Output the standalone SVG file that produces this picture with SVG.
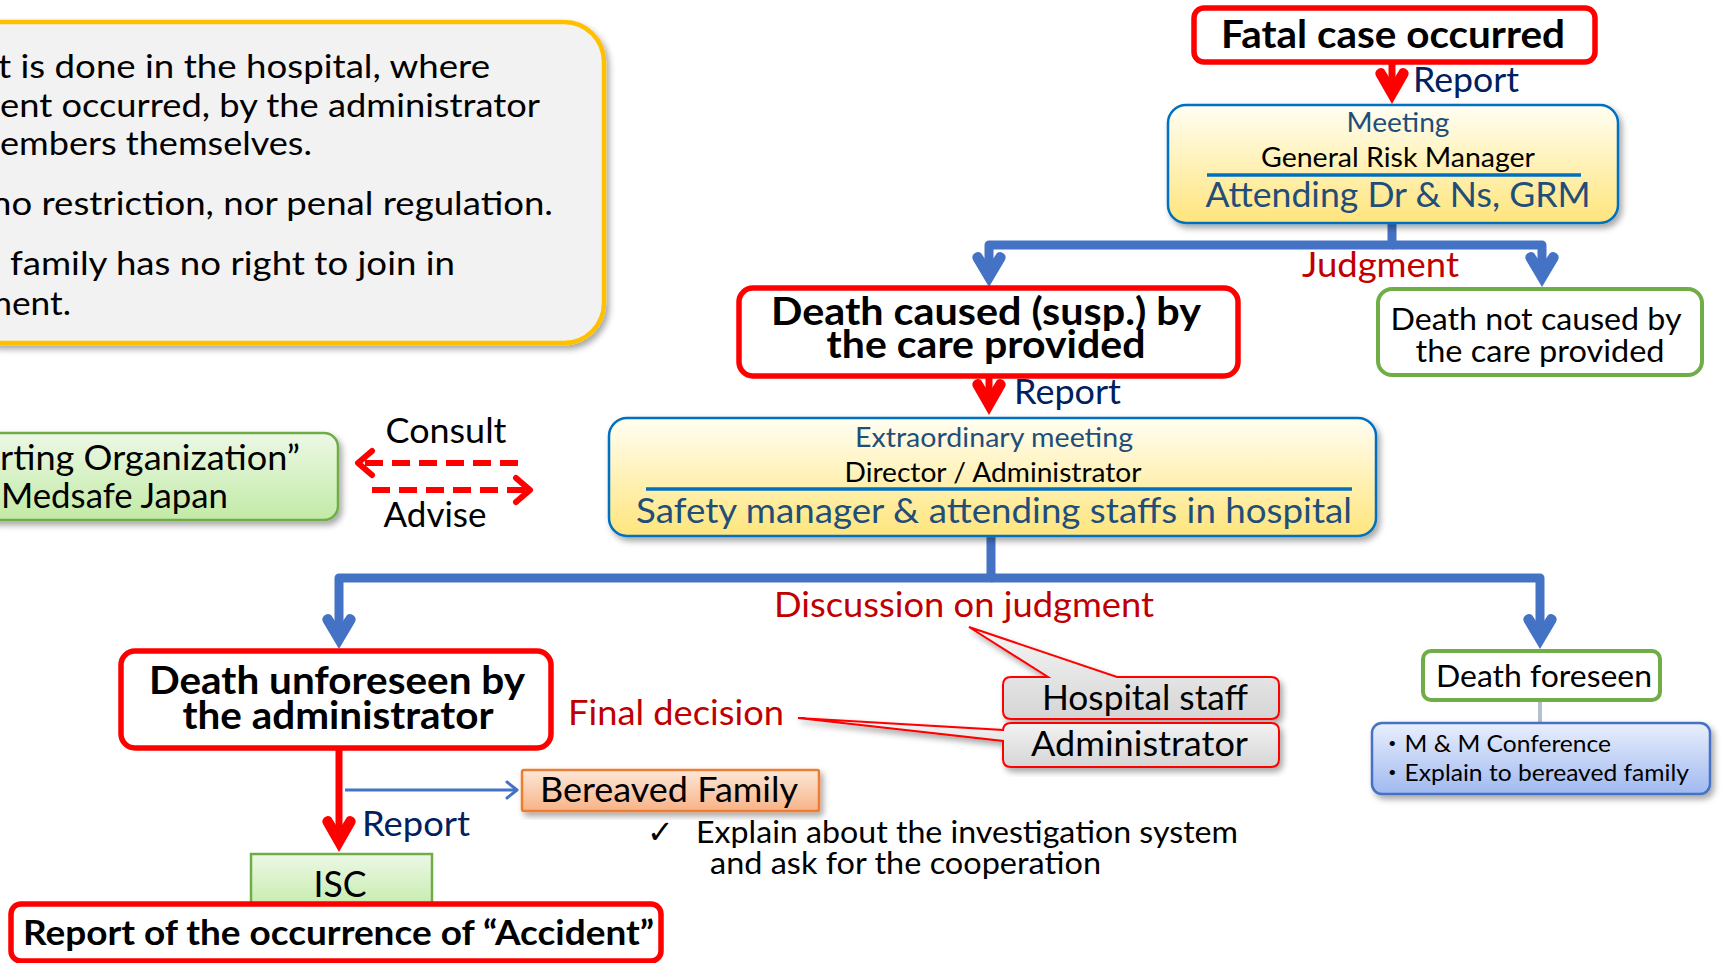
<svg xmlns="http://www.w3.org/2000/svg" width="1723" height="963" viewBox="0 0 1723 963">
<defs>
<style>
text{font-family:Lato,"Noto Sans CJK JP",sans-serif;}
.b{font-weight:bold;fill:#000;}
.k{fill:#000;}
.navy{fill:#002060;}
.slate{fill:#1f4e79;}
.dred{fill:#c00000;}
.redbox{fill:#fff;stroke:#ff0000;stroke-width:5.5;}
.greenbox{fill:#fff;stroke:#70ad47;stroke-width:4;}
.meet{fill:url(#gYellow);stroke:#0070c0;stroke-width:2.5;}
.blueconn{fill:none;stroke:#4472c4;stroke-width:9;stroke-linejoin:round;}
.redconn{fill:none;stroke:#ff0000;stroke-width:7;}
.dash{fill:none;stroke:#ff0000;stroke-width:6;stroke-dasharray:18 9;}
.mid{text-anchor:middle;}
</style>
<linearGradient id="gYellow" x1="0" y1="0" x2="0" y2="1"><stop offset="0" stop-color="#fffef3"/><stop offset="1" stop-color="#ffe57c"/></linearGradient>
<linearGradient id="gGreen" x1="0" y1="0" x2="0" y2="1"><stop offset="0" stop-color="#ecf8e5"/><stop offset="1" stop-color="#c2eaa6"/></linearGradient>
<linearGradient id="gOrange" x1="0" y1="0" x2="0" y2="1"><stop offset="0" stop-color="#fde8d8"/><stop offset="1" stop-color="#f7b387"/></linearGradient>
<linearGradient id="gBlue" x1="0" y1="0" x2="0" y2="1"><stop offset="0" stop-color="#e9effc"/><stop offset="1" stop-color="#a0b9f0"/></linearGradient>
<linearGradient id="gGray" x1="0" y1="0" x2="0" y2="1"><stop offset="0" stop-color="#f6f6f6"/><stop offset="1" stop-color="#d5d5d5"/></linearGradient>
<filter id="sh" x="-10%" y="-10%" width="120%" height="130%"><feDropShadow dx="3" dy="4" stdDeviation="3" flood-color="#000" flood-opacity="0.35"/></filter>
<marker id="ahRed" markerUnits="userSpaceOnUse" viewBox="-42 -24 44 48" markerWidth="44" markerHeight="48" refX="-20" refY="0" orient="auto">
<path d="M0,0 L-28,-16 A5.5,5.5 0 0 0 -35,-8 L-22,0 L-35,8 A5.5,5.5 0 0 0 -28,16 Z" fill="#ff0000"/>
</marker>
<marker id="ahBlue" markerUnits="userSpaceOnUse" viewBox="-42 -24 44 48" markerWidth="44" markerHeight="48" refX="-20" refY="0" orient="auto">
<path d="M0,0 L-27,-16 A5.5,5.5 0 0 0 -34,-8 L-22,0 L-34,8 A5.5,5.5 0 0 0 -27,16 Z" fill="#4472c4"/>
</marker>
<marker id="chevRed" markerUnits="userSpaceOnUse" viewBox="-20 -16 24 32" markerWidth="24" markerHeight="32" refX="-2" refY="0" orient="auto">
<polyline points="-14,-12 0,0 -14,12" fill="none" stroke="#ff0000" stroke-width="6" stroke-linecap="round" stroke-linejoin="round"/>
</marker>
<marker id="chevBlue" markerUnits="userSpaceOnUse" viewBox="-14 -10 16 20" markerWidth="16" markerHeight="20" refX="-1" refY="0" orient="auto">
<polyline points="-10,-8 0,0 -10,8" fill="none" stroke="#4472c4" stroke-width="3" stroke-linecap="round" stroke-linejoin="round"/>
</marker>
</defs>

<g id="note">
<rect x="-40" y="22" width="644" height="321" rx="40" fill="#f2f2f2" stroke="#ffc000" stroke-width="4.5" filter="url(#sh)"/>
<text class="k" x="-2" y="78" font-size="33" textLength="492" lengthAdjust="spacingAndGlyphs">t is done in the hospital, where</text>
<text class="k" x="0" y="117" font-size="33" textLength="540" lengthAdjust="spacingAndGlyphs">ent occurred, by the administrator</text>
<text class="k" x="0" y="155" font-size="33" textLength="312" lengthAdjust="spacingAndGlyphs">embers themselves.</text>
<text class="k" x="-9" y="215" font-size="33" textLength="562" lengthAdjust="spacingAndGlyphs">no restriction, nor penal regulation.</text>
<text class="k" x="10" y="275" font-size="33" textLength="445" lengthAdjust="spacingAndGlyphs">family has no right to join in</text>
<text class="k" x="-17" y="315" font-size="33" textLength="88" lengthAdjust="spacingAndGlyphs">ment.</text>
</g>

<g id="connectors">
<path class="redconn" d="M1392,63 V84" marker-end="url(#ahRed)"/>
<path class="blueconn" d="M1392,223 V245 H989 V267" marker-end="url(#ahBlue)"/>
<path class="blueconn" d="M1392,245 H1542 V267" marker-end="url(#ahBlue)"/>
<path class="redconn" d="M989,377 V395" marker-end="url(#ahRed)"/>
<path class="blueconn" d="M991,537 V578 H339 V629" marker-end="url(#ahBlue)"/>
<path class="blueconn" d="M991,578 H1540 V629" marker-end="url(#ahBlue)"/>
<path class="redconn" d="M339,749 V832" marker-end="url(#ahRed)"/>
<path d="M345,790 H516" fill="none" stroke="#4472c4" stroke-width="3" marker-end="url(#chevBlue)"/>
<path d="M1540,700 V723" fill="none" stroke="#b4bfd0" stroke-width="4"/>
<path class="dash" d="M518,463 H360" marker-end="url(#chevRed)"/>
<path class="dash" d="M372,490 H528" marker-end="url(#chevRed)"/>
<text class="navy" x="1413" y="92" font-size="35" textLength="106" lengthAdjust="spacingAndGlyphs">Report</text>
<text class="navy" x="1014" y="404" font-size="35" textLength="107" lengthAdjust="spacingAndGlyphs">Report</text>
<text class="navy" x="362" y="836" font-size="35" textLength="108" lengthAdjust="spacingAndGlyphs">Report</text>
<text class="dred" x="1302" y="277" font-size="35" textLength="157" lengthAdjust="spacingAndGlyphs">Judgment</text>
<text class="dred" x="774" y="617" font-size="35" textLength="380" lengthAdjust="spacingAndGlyphs">Discussion on judgment</text>
<text class="dred" x="568" y="725" font-size="35" textLength="216" lengthAdjust="spacingAndGlyphs">Final decision</text>
<text class="k mid" x="446" y="443" font-size="35" textLength="121" lengthAdjust="spacingAndGlyphs">Consult</text>
<text class="k mid" x="435" y="527" font-size="35" textLength="103" lengthAdjust="spacingAndGlyphs">Advise</text>
</g>

<g id="fatal">
<rect class="redbox" x="1194" y="8" width="401" height="54" rx="10"/>
<text class="b mid" x="1393" y="48" font-size="39" textLength="344" lengthAdjust="spacingAndGlyphs">Fatal case occurred</text>
</g>

<g id="meeting">
<rect class="meet" x="1168" y="105" width="450" height="118" rx="18" filter="url(#sh)"/>
<text class="slate mid" x="1398" y="132" font-size="27" textLength="103" lengthAdjust="spacingAndGlyphs">Meeting</text>
<text class="k mid" x="1398" y="167" font-size="27" textLength="274" lengthAdjust="spacingAndGlyphs">General Risk Manager</text>
<line x1="1207" y1="175" x2="1581" y2="175" stroke="#0070c0" stroke-width="3.5"/>
<text class="slate mid" x="1398" y="207" font-size="35" textLength="385" lengthAdjust="spacingAndGlyphs">Attending Dr &amp; Ns, GRM</text>
</g>

<g id="death-caused">
<rect class="redbox" x="739" y="288" width="499" height="88" rx="14"/>
<text class="b mid" x="986" y="325" font-size="39" textLength="430" lengthAdjust="spacingAndGlyphs">Death caused (susp.) by</text>
<text class="b mid" x="986" y="358" font-size="39" textLength="319" lengthAdjust="spacingAndGlyphs">the care provided</text>
</g>

<g id="death-not-caused">
<rect class="greenbox" x="1378" y="289" width="324" height="86" rx="14"/>
<text class="k mid" x="1536" y="330" font-size="31" textLength="291" lengthAdjust="spacingAndGlyphs">Death not caused by</text>
<text class="k mid" x="1540" y="362" font-size="31" textLength="249" lengthAdjust="spacingAndGlyphs">the care provided</text>
</g>

<g id="extraordinary">
<rect class="meet" x="609" y="418" width="767" height="118" rx="18" filter="url(#sh)"/>
<text class="slate mid" x="994" y="447" font-size="27" textLength="278" lengthAdjust="spacingAndGlyphs">Extraordinary meeting</text>
<text class="k mid" x="993" y="482" font-size="27" textLength="297" lengthAdjust="spacingAndGlyphs">Director / Administrator</text>
<line x1="646" y1="489" x2="1352" y2="489" stroke="#0070c0" stroke-width="3.5"/>
<text class="slate mid" x="994" y="523" font-size="35" textLength="716" lengthAdjust="spacingAndGlyphs">Safety manager &amp; attending staffs in hospital</text>
</g>

<g id="medsafe">
<rect x="-20" y="433" width="358" height="87" rx="14" fill="url(#gGreen)" stroke="#70ad47" stroke-width="2.5" filter="url(#sh)"/>
<text class="k" x="0" y="470" font-size="34" textLength="300" lengthAdjust="spacingAndGlyphs">rting Organization”</text>
<text class="k" x="1" y="508" font-size="34" textLength="227" lengthAdjust="spacingAndGlyphs">Medsafe Japan</text>
</g>

<g id="hospital-staff">
<path d="M1011,677 H1048 L969,627 L1117,677 H1271 Q1279,677 1279,685 V711 Q1279,719 1271,719 H1011 Q1003,719 1003,711 V685 Q1003,677 1011,677 Z" fill="url(#gGray)" stroke="#ff0000" stroke-width="2" filter="url(#sh)"/>
<text class="k" x="1042" y="710" font-size="35" textLength="206" lengthAdjust="spacingAndGlyphs">Hospital staff</text>
</g>

<g id="administrator">
<path d="M1011,723 H1271 Q1279,723 1279,731 V759 Q1279,767 1271,767 H1011 Q1003,767 1003,759 V741 L798,718 L1003,730 V731 Q1003,723 1011,723 Z" fill="url(#gGray)" stroke="#ff0000" stroke-width="2" filter="url(#sh)"/>
<text class="k" x="1031" y="756" font-size="35" textLength="217" lengthAdjust="spacingAndGlyphs">Administrator</text>
</g>

<g id="death-unforeseen">
<rect class="redbox" x="121" y="651" width="430" height="97" rx="14"/>
<text class="b mid" x="337" y="694" font-size="39" textLength="376" lengthAdjust="spacingAndGlyphs">Death unforeseen by</text>
<text class="b mid" x="338" y="729" font-size="39" textLength="311" lengthAdjust="spacingAndGlyphs">the administrator</text>
</g>

<g id="death-foreseen">
<rect class="greenbox" x="1423" y="651" width="237" height="49" rx="8"/>
<text class="k mid" x="1544" y="687" font-size="31" textLength="216" lengthAdjust="spacingAndGlyphs">Death foreseen</text>
</g>

<g id="mm-conference">
<rect x="1372" y="723" width="338" height="71" rx="10" fill="url(#gBlue)" stroke="#4472c4" stroke-width="2.5" filter="url(#sh)"/>
<text class="k" x="1380" y="752" font-size="24" textLength="231" lengthAdjust="spacingAndGlyphs">・M &amp; M Conference</text>
<text class="k" x="1380" y="781" font-size="24" textLength="309" lengthAdjust="spacingAndGlyphs">・Explain to bereaved family</text>
</g>

<g id="bereaved">
<rect x="522" y="770" width="297" height="41" rx="2" fill="url(#gOrange)" stroke="#ed7d31" stroke-width="2.5" filter="url(#sh)"/>
<text class="k" x="540" y="802" font-size="34" textLength="258" lengthAdjust="spacingAndGlyphs">Bereaved Family</text>
</g>

<g id="explain">
<text x="647" y="843" font-size="32" fill="#000" style="font-family:'DejaVu Sans',sans-serif">✓</text>
<text class="k" x="696" y="843" font-size="31" textLength="542" lengthAdjust="spacingAndGlyphs">Explain about the investigation system</text>
<text class="k" x="710" y="874" font-size="31" textLength="391" lengthAdjust="spacingAndGlyphs">and ask for the cooperation</text>
</g>

<g id="isc">
<rect x="251" y="854" width="181" height="60" fill="url(#gGreen)" stroke="#70ad47" stroke-width="2.5"/>
<text class="k mid" x="340" y="897" font-size="36" textLength="53" lengthAdjust="spacingAndGlyphs">ISC</text>
</g>

<g id="accident-report">
<rect class="redbox" x="11" y="904" width="650" height="57" rx="10"/>
<text class="b" x="23" y="945" font-size="34" textLength="631" lengthAdjust="spacingAndGlyphs">Report of the occurrence of “Accident”</text>
</g>
</svg>
